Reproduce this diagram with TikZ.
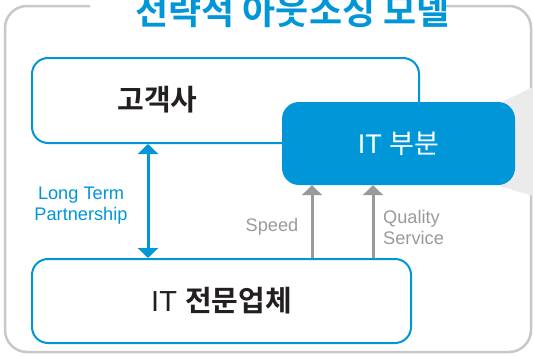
\documentclass[tikz,border=0pt]{standalone}
\usepackage{fontspec}
\setmainfont{Liberation Sans}
\newfontfamily\kr{Noto Sans CJK KR}[BoldFont={Noto Sans CJK KR Bold}]
\usetikzlibrary{arrows.meta}
\definecolor{mblue}{HTML}{0096D8}
\definecolor{framegray}{HTML}{C8C8C8}
\definecolor{agray}{HTML}{9A9A9A}
\definecolor{tdark}{HTML}{231F20}
\definecolor{wedge}{HTML}{EBEBEB}
\tikzset{
  outbox/.style={draw=mblue, line width=2pt, rounded corners=16pt, fill=white, inner sep=0pt},
  fillbox/.style={fill=mblue, rounded corners=17pt, inner sep=0pt, text=white},
  bluearrow/.style={draw=mblue, line width=3pt, {Triangle[width=20pt,length=10pt]}-{Triangle[width=20pt,length=10pt]}},
  grayarrow/.style={draw=agray, line width=3pt, -{Triangle[width=20pt,length=10pt]}},
  smalltxt/.style={font=\fontsize{18.2}{21}\selectfont, inner sep=0pt}
}
\begin{document}
\begin{tikzpicture}[x=1pt,y=-1pt]
\useasboundingbox (0,0) rectangle (533,356);
% outer frame
\draw[framegray, line width=2.5pt, rounded corners=22pt] (90,6) -- (5,6) -- (5,352) -- (531,352) -- (531,6) -- (446,6);
% title
\node[anchor=base, text=mblue, inner sep=0pt, font=\kr\bfseries\fontsize{36}{36}\selectfont] (title) at (292.5,24) {전략적 아웃소싱 모델};
% wedge
\fill[wedge] (500,103) -- (533,87) -- (533,196) -- (500,186) -- cycle;
% boxes
\node[outbox, minimum width=387pt, minimum height=85pt] (cust) at (225.5,100.5) {};
\node[inner sep=0pt, text=tdark, font=\kr\bfseries\fontsize{29}{29}\selectfont] (custtxt) at (157.5,100) {고객사};
\node[fillbox, minimum width=233pt, minimum height=83pt] (itdept) at (398.5,143.5) {\fontsize{27}{27}\selectfont IT {\kr 부분}};
\node[outbox, minimum width=379pt, minimum height=84pt, text=tdark] (vendor) at (221.5,301) {\fontsize{29}{29}\selectfont IT {\kr\bfseries 전문업체}};
% arrows
\coordinate (ax) at (148,200);
\coordinate (sx) at (312,200);
\coordinate (qx) at (373,200);
\draw[bluearrow] (ax |- cust.south) -- (ax |- vendor.north);
\draw[grayarrow] (sx |- vendor.north) -- (sx |- itdept.south);
\draw[grayarrow] (qx |- vendor.north) -- (qx |- itdept.south);
% labels
\node[smalltxt, text=mblue, align=center] (ltp) at (81,206) {Long Term\\Partnership};
\node[smalltxt, text=agray] (speed) at (272,227) {Speed};
\node[smalltxt, text=agray, align=left, anchor=west] (qs) at (383,227) {Quality\\Service};
\end{tikzpicture}
\end{document}
